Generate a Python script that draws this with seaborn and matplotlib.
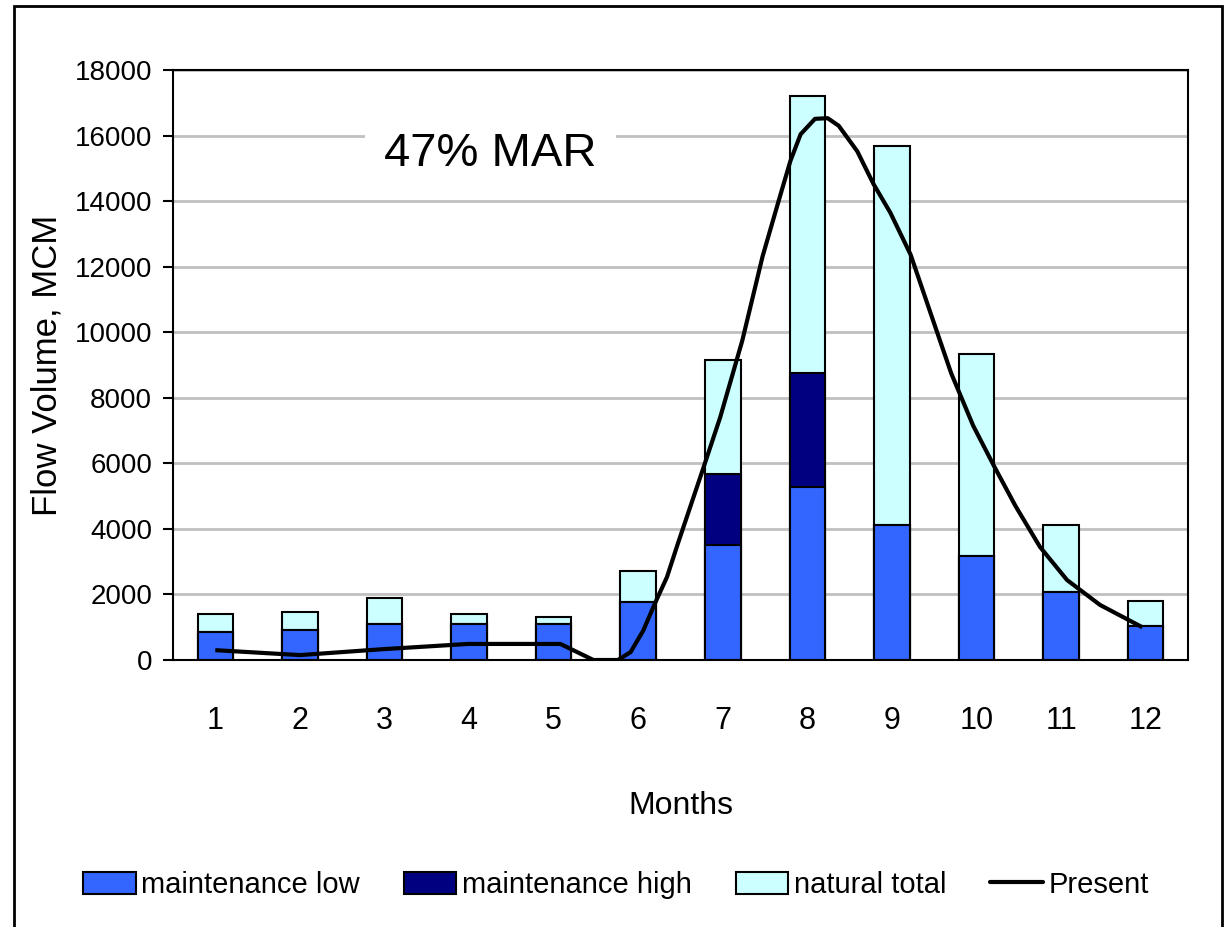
import numpy as np
import matplotlib
matplotlib.use("Agg")
import matplotlib.pyplot as plt
from matplotlib.patches import Patch, Rectangle
from matplotlib.lines import Line2D
import seaborn as sns

# monthly flow volumes (MCM)
months = [str(m) for m in range(1, 13)]
maint_low = [850, 920, 1100, 1100, 1100, 1770, 3500, 5290, 4110, 3170, 2070, 1040]
maint_high = [850, 920, 1100, 1100, 1100, 1770, 5660, 8750, 4110, 3170, 2070, 1040]
natural_total = [1400, 1460, 1890, 1400, 1310, 2710, 9160, 17210, 15670, 9330, 4120, 1800]

# present-day flow, traced at finer resolution than the months
present_month = [1.00, 2.00, 2.98, 3.99, 5.08, 5.47, 5.76, 5.91, 6.06, 6.20, 6.34, 6.47,
                 6.76, 6.97, 7.23, 7.47, 7.68, 7.80, 7.92, 8.09, 8.24, 8.37, 8.59, 8.78,
                 8.98, 9.22, 9.49, 9.70, 9.96, 10.20, 10.46, 10.75, 11.07, 11.46, 11.96]
present_flow = [300, 150, 330, 490, 490, 0, 0, 240, 900, 1740, 2530, 3560,
                5780, 7410, 9740, 12310, 14180, 15230, 16040, 16510, 16530, 16300, 15520, 14530,
                13650, 12370, 10330, 8750, 7150, 5950, 4700, 3450, 2440, 1680, 1000]

C_LOW, C_HIGH, C_NAT = "#3366FF", "#000080", "#CCFFFF"

sns.set_style("white")
plt.rcParams["font.family"] = ["Liberation Sans", "DejaVu Sans"]
plt.rcParams.update({"text.color": "black", "axes.labelcolor": "black",
                     "xtick.color": "black", "ytick.color": "black"})

fig = plt.figure(figsize=(12.32, 9.27), dpi=100)
ax = fig.add_axes([173 / 1232, 1 - 660 / 927, (1188 - 173) / 1232, (660 - 70) / 927])

for vals, col in [(natural_total, C_NAT), (maint_high, C_HIGH), (maint_low, C_LOW)]:
    sns.barplot(x=months, y=vals, order=months, color=col, saturation=1,
                edgecolor="black", linewidth=1.5, width=0.42, ax=ax, zorder=2)

ax.plot(np.array(present_month) - 1, present_flow, color="black", lw=3,
        solid_joinstyle="round", solid_capstyle="butt", zorder=4)

ax.set_xlim(-0.5, 11.5)
ax.set_ylim(0, 18000)
ax.set_yticks(np.arange(0, 18001, 2000))
ax.set_axisbelow(True)
ax.yaxis.grid(True, color="#C0C0C0", lw=2)
ax.xaxis.grid(False)

for s in ax.spines.values():
    s.set_color("black")
    s.set_linewidth(1.5)

ax.set_xticks(np.arange(-0.5, 12, 1), minor=True)
ax.tick_params(axis="x", which="major", length=0, pad=33, labelsize=22)
ax.tick_params(axis="x", which="minor", length=12, width=1.5, direction="out")
ax.tick_params(axis="y", length=7, width=1.5, direction="out", labelsize=20, pad=8)
ax.tick_params(left=True, bottom=True)

ax.set_xlabel("Months", fontsize=23, labelpad=40)
ax.set_ylabel("Flow Volume, MCM", fontsize=25, labelpad=8)

ax.text(3.25, 15450, "47% MAR", fontsize=34, ha="center", va="center", zorder=5,
        bbox=dict(facecolor="white", edgecolor="none", pad=14))

handles = [Patch(facecolor=C_LOW, edgecolor="black", lw=1.5),
           Patch(facecolor=C_HIGH, edgecolor="black", lw=1.5),
           Patch(facecolor=C_NAT, edgecolor="black", lw=1.5),
           Line2D([0], [0], color="black", lw=3)]
labels = ["maintenance low", "maintenance high", "natural total", "Present"]
fig.legend(handles, labels, loc="center", bbox_to_anchor=(0.5, 1 - 885 / 927), ncol=4,
           frameon=False, fontsize=21, handlelength=1.8, handleheight=0.8,
           handletextpad=0.2, columnspacing=1.5)

# outer chart frame
fig.patches.append(Rectangle((14 / 1232, -0.05), (1222 - 14) / 1232, 1.05 - 6 / 927,
                             transform=fig.transFigure, fill=False, ec="black", lw=2))

fig.savefig("out.png", dpi=100)
